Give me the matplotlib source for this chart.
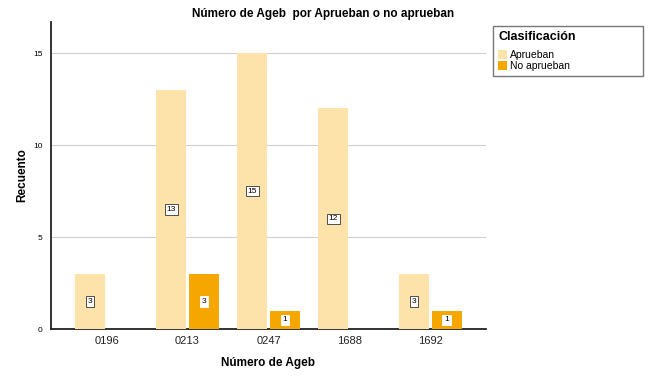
import numpy as np
import matplotlib
matplotlib.use("Agg")
import matplotlib.pyplot as plt

plt.rcParams["font.family"] = ["Liberation Sans", "DejaVu Sans"]

# --------------------------------------------------------------
# Data
# --------------------------------------------------------------
agebs = ["0196", "0213", "0247", "1688", "1692"]
aprueban = [3, 13, 15, 12, 3]
no_aprueban = [0, 3, 1, 0, 1]

c_light = "#FDE3A9"
c_dark = "#F5A700"

fig = plt.figure(figsize=(6.5, 3.84), dpi=100)
ax = fig.add_axes([0.078, 0.143, 0.670, 0.800])

x = np.arange(len(agebs))
w = 0.37
off = 0.2
b1 = ax.bar(x - off, aprueban, w, color=c_light, label="Aprueban", zorder=3)
b2 = ax.bar(x + off, no_aprueban, w, color=c_dark, label="No aprueban", zorder=3)

# boxed counts in the middle of each bar
for xi, v in zip(x - off, aprueban):
    if v > 0:
        ax.text(xi, v / 2, str(v), ha="center", va="center", fontsize=6, zorder=4,
                bbox=dict(boxstyle="square,pad=0.2", fc="white", ec="#333333", lw=0.6))
for xi, v in zip(x + off, no_aprueban):
    if v > 0:
        ax.text(xi, v / 2, str(v), ha="center", va="center", fontsize=6, zorder=4,
                bbox=dict(boxstyle="square,pad=0.2", fc="white", ec="white", lw=0.6))

ax.set_xlim(-0.69, 4.69)
ax.set_ylim(0, 16.7)
ax.set_yticks([0, 5, 10, 15])
ax.set_xticks(x)
ax.set_xticklabels(agebs, fontsize=8)
ax.tick_params(axis="y", labelsize=6, length=0, pad=6)
ax.tick_params(axis="x", length=0, pad=5, colors="#222222")
ax.yaxis.grid(True, color="#CFCFCF", lw=0.8, zorder=0)
ax.set_axisbelow(True)

for s in ["top", "right"]:
    ax.spines[s].set_visible(False)
for s in ["left", "bottom"]:
    ax.spines[s].set_linewidth(1.3)
    ax.spines[s].set_color("#222222")

ax.set_xlabel("Número de Ageb", fontsize=8.5, fontweight="bold", labelpad=8)
ax.set_ylabel("Recuento", fontsize=8.5, fontweight="bold", labelpad=3)
fig.text(0.497, 0.964, "Número de Ageb  por Aprueban o no aprueban",
         ha="center", va="center", fontsize=8.5, fontweight="bold")

leg = fig.legend(handles=[b1, b2], labels=["Aprueban", "No aprueban"],
                 title="Clasificación", loc="upper left",
                 bbox_to_anchor=(0.751, 0.807, 0.246, 0.138), mode="expand",
                 fontsize=7.5,
                 title_fontproperties={"weight": "bold", "size": 9},
                 frameon=True, fancybox=False, edgecolor="#555555",
                 handlelength=0.9, handleheight=0.9, handletextpad=0.2,
                 labelspacing=0.1, borderpad=0.45, alignment="left")
leg.get_frame().set_linewidth(1.0)
leg._legend_box.sep = 5

fig.savefig("out.png", dpi=100)
